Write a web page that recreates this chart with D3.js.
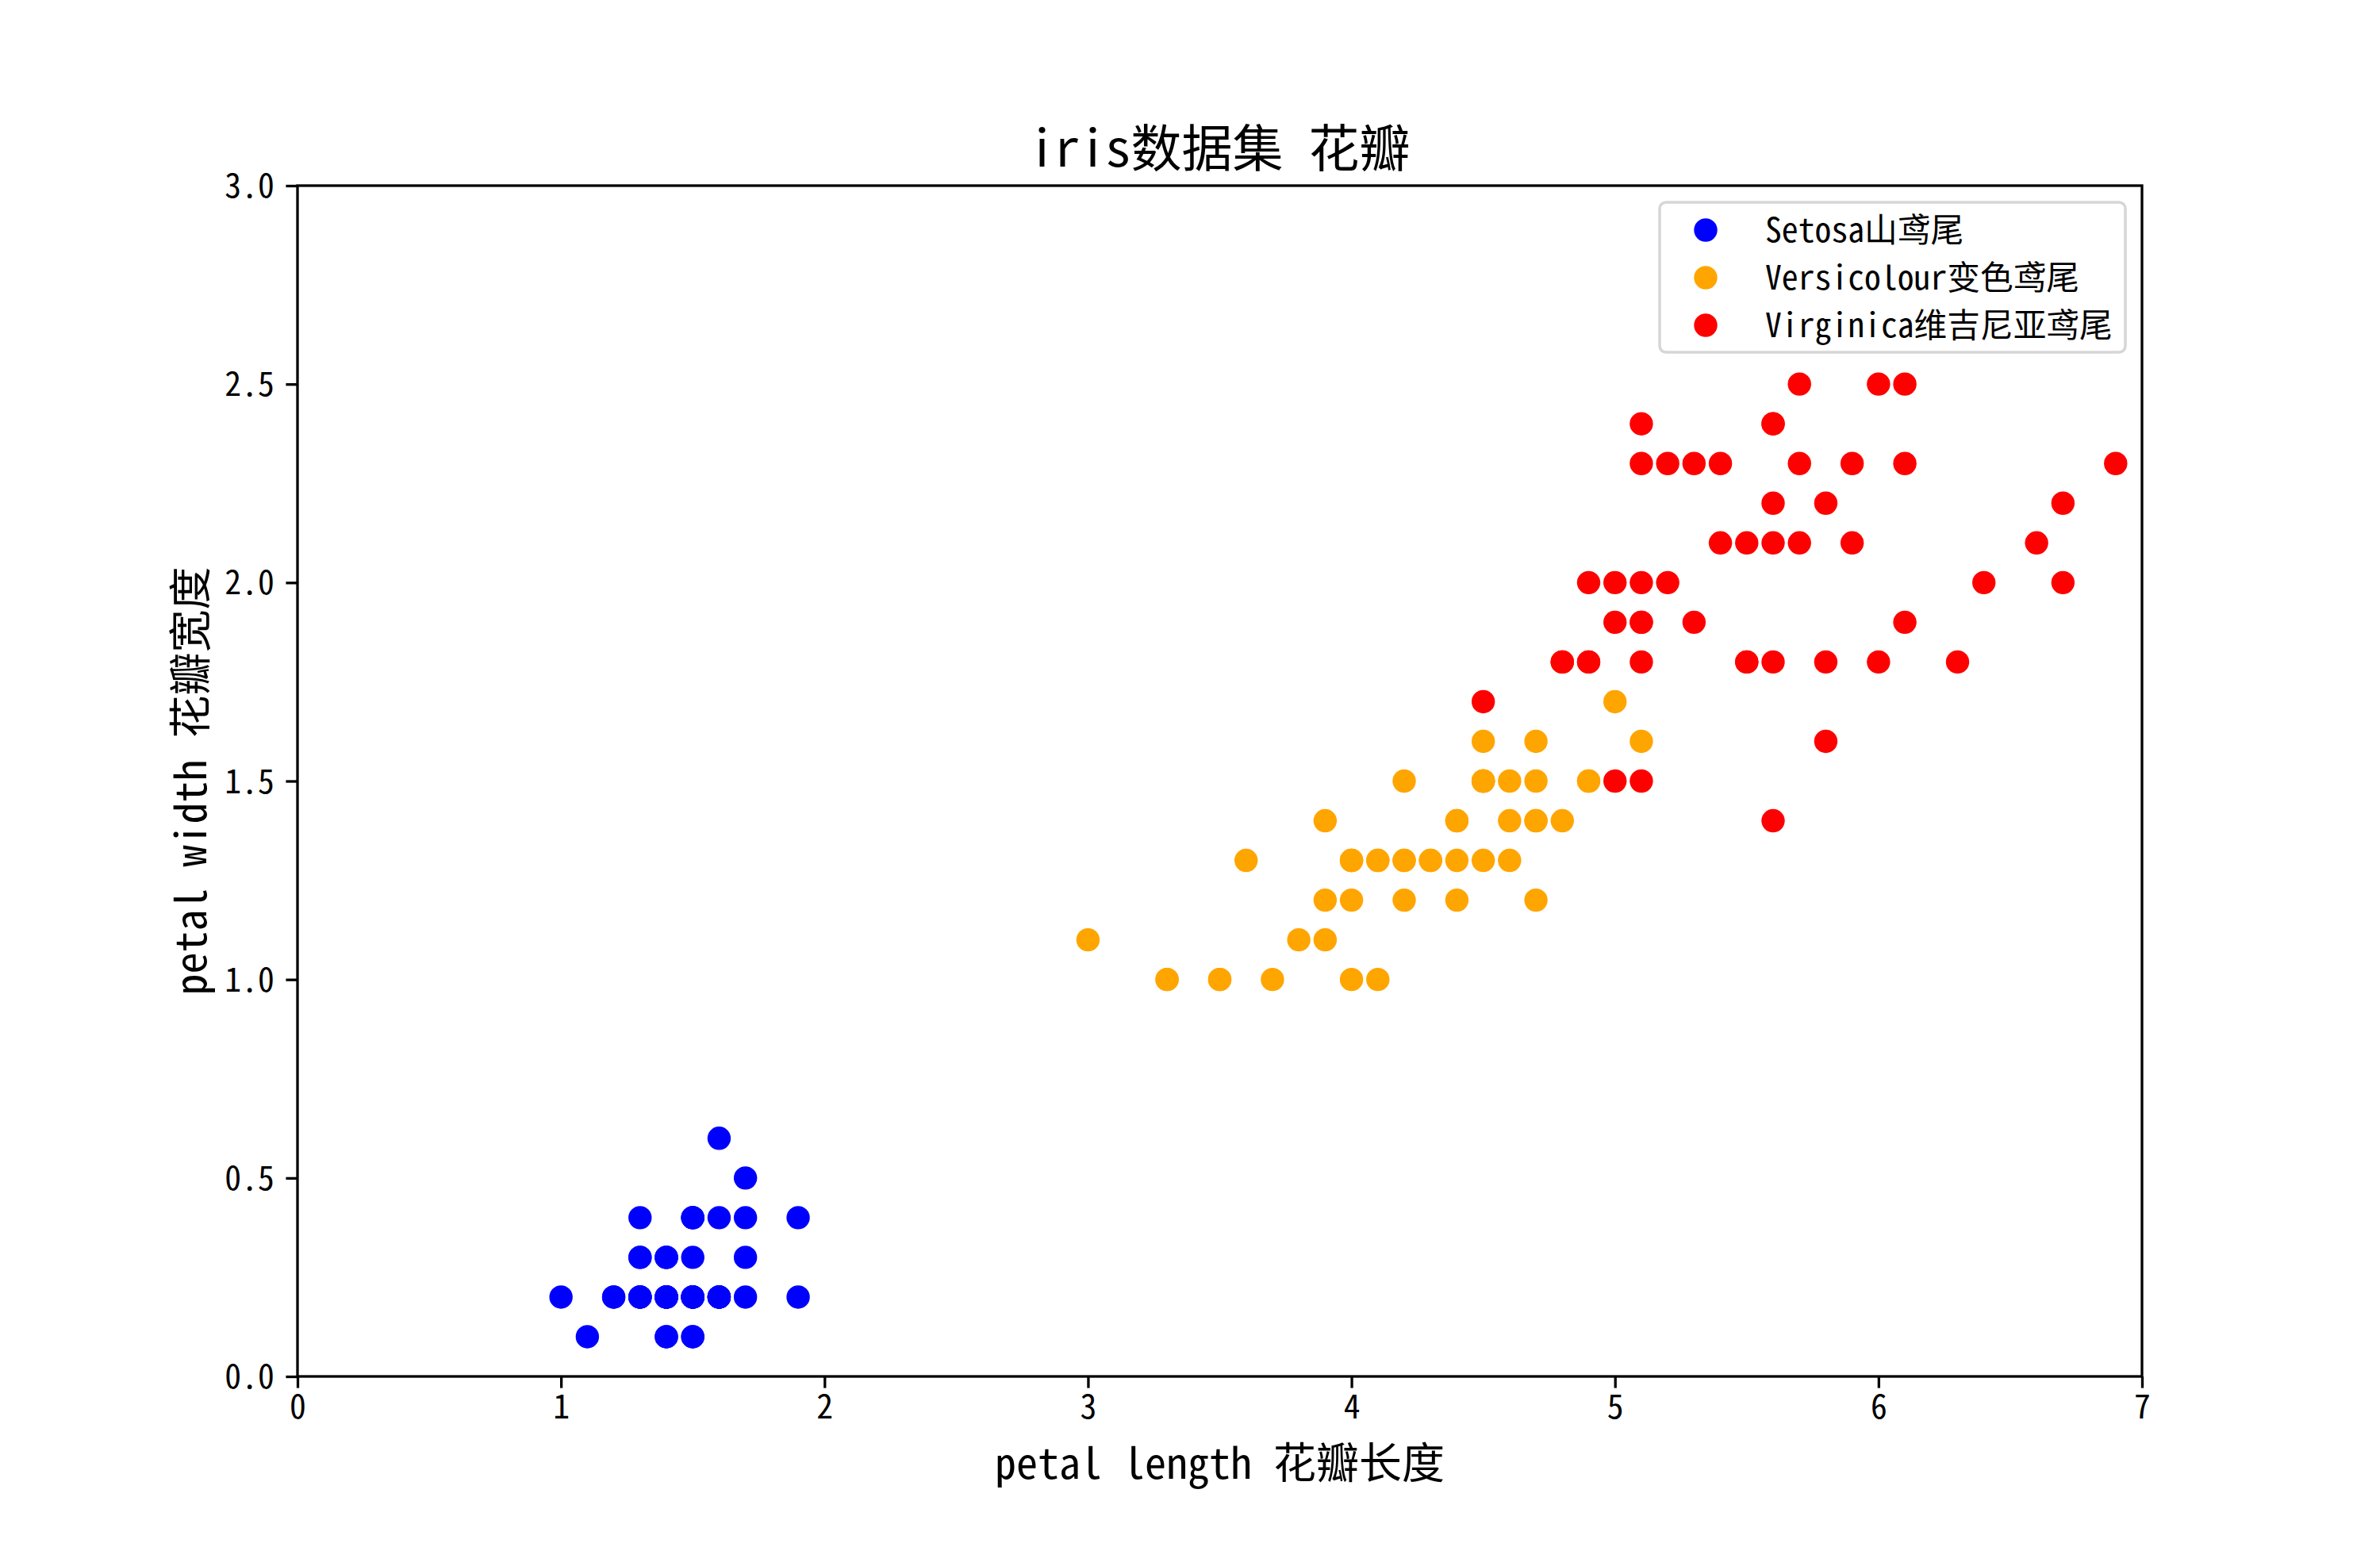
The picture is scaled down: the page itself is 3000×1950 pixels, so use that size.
<!DOCTYPE html>
<html><head><meta charset="utf-8">
<script src="https://cdn.jsdelivr.net/npm/d3@7"></script>
<style>
html,body{margin:0;padding:0;background:#fff;}
text{font-family:"Noto Sans Mono CJK SC","Noto Sans CJK SC",sans-serif;fill:#000;}
</style></head><body>
<script>
// ---- data (iris petal length / petal width) ----
const setosaLength = [1.4,1.4,1.3,1.5,1.4,1.7,1.4,1.5,1.4,1.5,1.5,1.6,1.4,1.1,1.2,1.5,1.3,1.4,1.7,1.5,1.7,1.5,1.0,1.7,1.9,1.6,1.6,1.5,1.4,1.6,1.6,1.5,1.5,1.4,1.5,1.2,1.3,1.4,1.3,1.5,1.3,1.3,1.3,1.6,1.9,1.4,1.6,1.4,1.5,1.4];
const setosaWidth  = [0.2,0.2,0.2,0.2,0.2,0.4,0.3,0.2,0.2,0.1,0.2,0.2,0.1,0.1,0.2,0.4,0.4,0.3,0.3,0.3,0.2,0.4,0.2,0.5,0.2,0.2,0.4,0.2,0.2,0.2,0.2,0.4,0.1,0.2,0.2,0.2,0.2,0.1,0.2,0.2,0.3,0.3,0.2,0.6,0.4,0.3,0.2,0.2,0.2,0.2];
const versicolorLength = [4.7,4.5,4.9,4.0,4.6,4.5,4.7,3.3,4.6,3.9,3.5,4.2,4.0,4.7,3.6,4.4,4.5,4.1,4.5,3.9,4.8,4.0,4.9,4.7,4.3,4.4,4.8,5.0,4.5,3.5,3.8,3.7,3.9,5.1,4.5,4.5,4.7,4.4,4.1,4.0,4.4,4.6,4.0,3.3,4.2,4.2,4.2,4.3,3.0,4.1];
const versicolorWidth  = [1.4,1.5,1.5,1.3,1.5,1.3,1.6,1.0,1.3,1.4,1.0,1.5,1.0,1.4,1.3,1.4,1.5,1.0,1.5,1.1,1.8,1.3,1.5,1.2,1.3,1.4,1.4,1.7,1.5,1.0,1.1,1.0,1.2,1.6,1.5,1.6,1.5,1.3,1.3,1.3,1.2,1.4,1.2,1.0,1.3,1.2,1.3,1.3,1.1,1.3];
const virginicaLength = [6.0,5.1,5.9,5.6,5.8,6.6,4.5,6.3,5.8,6.1,5.1,5.3,5.5,5.0,5.1,5.3,5.5,6.7,6.9,5.0,5.7,4.9,6.7,4.9,5.7,6.0,4.8,4.9,5.6,5.8,6.1,6.4,5.6,5.1,5.6,6.1,5.6,5.5,4.8,5.4,5.6,5.1,5.1,5.9,5.7,5.2,5.0,5.2,5.4,5.1];
const virginicaWidth  = [2.5,1.9,2.1,1.8,2.2,2.1,1.7,1.8,1.8,2.5,2.0,1.9,2.1,2.0,2.4,2.3,1.8,2.2,2.3,1.5,2.3,2.0,2.0,1.8,2.1,1.8,1.8,1.8,2.1,1.6,1.9,2.0,2.2,1.5,1.4,2.3,2.4,1.8,1.8,2.1,2.4,2.3,1.9,2.3,2.5,2.3,1.9,2.0,2.3,1.8];
const seriesNames = ["Setosa山鸢尾","Versicolour变色鸢尾","Virginica维吉尼亚鸢尾"];
const seriesColors = ["blue","orange","red"];
const xTicks = [0,1,2,3,4,5,6,7];
const yTicks = [0.0,0.5,1.0,1.5,2.0,2.5,3.0];
const titleText = "iris数据集 花瓣";
const xLabel = "petal length 花瓣长度";
const yLabel = "petal width 花瓣宽度";

const series = [
  {name: seriesNames[0], color: seriesColors[0], xs: setosaLength, ys: setosaWidth},
  {name: seriesNames[1], color: seriesColors[1], xs: versicolorLength, ys: versicolorWidth},
  {name: seriesNames[2], color: seriesColors[2], xs: virginicaLength, ys: virginicaWidth}
];

const W = 3000, H = 1950;
const m = {left: 375, right: 2700, top: 234, bottom: 1735};
const svg = d3.select("body").append("svg").attr("width", W).attr("height", H);

const x = d3.scaleLinear().domain([0,7]).range([m.left, m.right]);
const y = d3.scaleLinear().domain([0,3]).range([m.bottom, m.top]);

// points
series.forEach(s => {
  svg.append("g").selectAll("circle").data(s.xs.map((v,i)=>[v, s.ys[i]]))
    .enter().append("circle")
    .attr("cx", d => x(d[0])).attr("cy", d => y(d[1]))
    .attr("r", 14.7).attr("fill", s.color);
});

// axes
const tickFont = 41.7;
const xAxis = d3.axisBottom(x).tickValues(xTicks).tickFormat(d3.format("d")).tickSize(14.6).tickPadding(14.6);
const yAxis = d3.axisLeft(y).tickValues(yTicks).tickFormat(d3.format(".1f")).tickSize(14.6).tickPadding(14.6);
const gx = svg.append("g").attr("transform", `translate(0,${m.bottom})`).call(xAxis);
const gy = svg.append("g").attr("transform", `translate(${m.left},0)`).call(yAxis);
[gx, gy].forEach(g => {
  g.select(".domain").remove();
  g.selectAll(".tick line").attr("stroke", "#000").attr("stroke-width", 3.3);
  g.selectAll(".tick text").attr("font-size", tickFont).attr("font-family", null).style("font-family", null);
});
gx.selectAll(".tick text").attr("dy", null).attr("y", 53);
gy.selectAll(".tick text").attr("dy", "0.35em");

// frame
svg.append("rect").attr("x", m.left).attr("y", m.top)
  .attr("width", m.right - m.left).attr("height", m.bottom - m.top)
  .attr("fill", "none").attr("stroke", "#000").attr("stroke-width", 3.3);

// title and labels
svg.append("text").attr("x", (m.left+m.right)/2).attr("y", 210)
  .attr("text-anchor", "middle").attr("font-size", 64).text(titleText);
svg.append("text").attr("x", (m.left+m.right)/2).attr("y", 1864)
  .attr("text-anchor", "middle").attr("font-size", 54).text(xLabel);
svg.append("text").attr("transform", `translate(260,${(m.top+m.bottom)/2}) rotate(-90)`)
  .attr("text-anchor", "middle").attr("font-size", 54).text(yLabel);

// legend
const lg = svg.append("g");
lg.append("rect").attr("x", 2092).attr("y", 255).attr("width", 587).attr("height", 189)
  .attr("rx", 8).attr("fill", "#fff").attr("fill-opacity", 0.8)
  .attr("stroke", "#d6d6d6").attr("stroke-width", 3.5);
series.forEach((s, i) => {
  const cy = 290 + i * 60;
  lg.append("circle").attr("cx", 2150).attr("cy", cy).attr("r", 14.7).attr("fill", s.color);
  lg.append("text").attr("x", 2225).attr("y", cy).attr("dy", "0.35em")
    .attr("font-size", 41.7).text(s.name);
});
</script>
</body></html>
